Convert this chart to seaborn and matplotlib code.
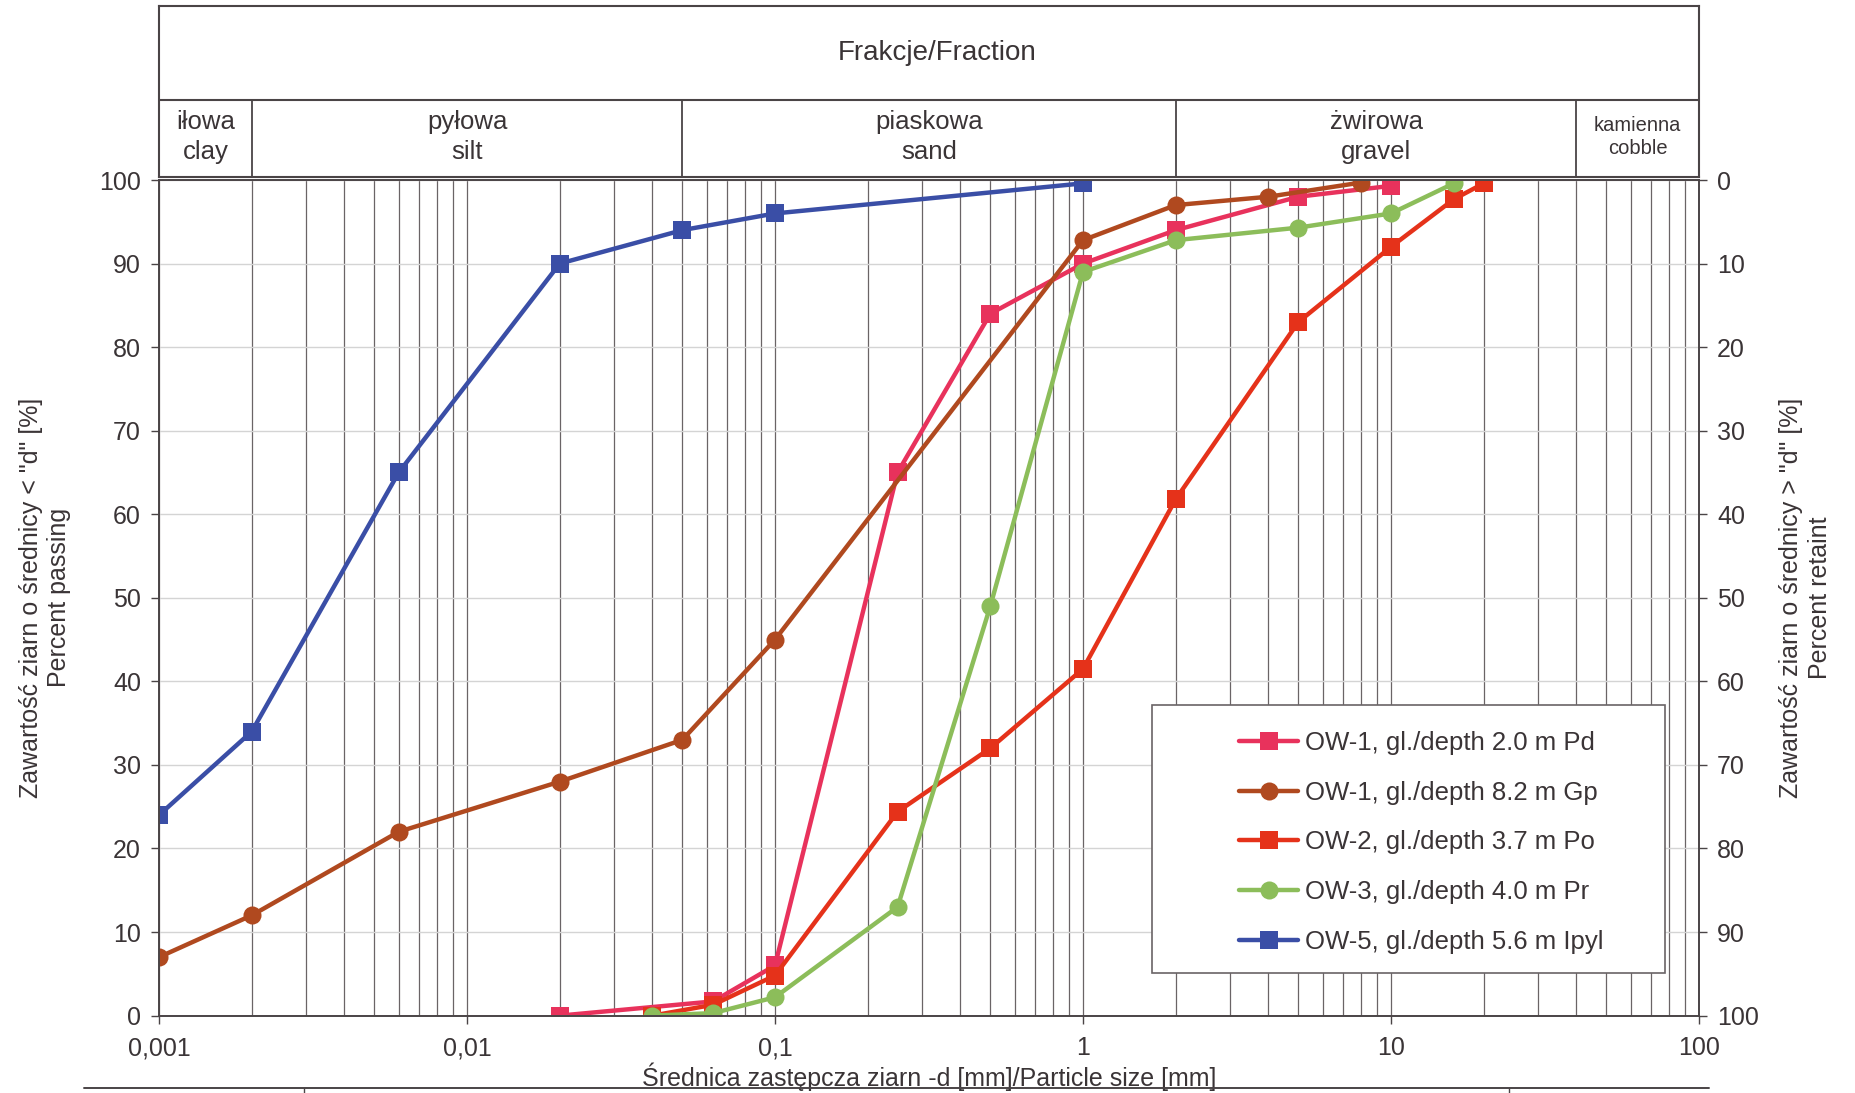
import matplotlib
matplotlib.use('Agg')
import matplotlib.pyplot as plt
import matplotlib.ticker as mticker
from matplotlib.patches import Rectangle
from matplotlib.lines import Line2D
import seaborn as sns

# Grain size data: particle size [mm] and percent passing [%]
ow1_pd_d = [0.02, 0.063, 0.1, 0.25, 0.5, 1, 2, 5, 10]
ow1_pd_p = [0, 1.7, 6, 65, 84, 90, 94, 98, 99.3]

ow1_gp_d = [0.001, 0.002, 0.006, 0.02, 0.05, 0.1, 1, 2, 4, 8]
ow1_gp_p = [7, 12, 22, 28, 33, 45, 92.8, 97, 98, 99.7]

ow2_po_d = [0.04, 0.063, 0.1, 0.25, 0.5, 1, 2, 5, 10, 16, 20]
ow2_po_p = [0, 1.3, 4.8, 24.4, 32, 41.5, 61.8, 83, 92, 97.7, 99.6]

ow3_pr_d = [0.04, 0.063, 0.1, 0.25, 0.5, 1, 2, 5, 10, 16]
ow3_pr_p = [0, 0.3, 2.2, 13, 49, 89, 92.8, 94.3, 96, 99.6]

ow5_ip_d = [0.001, 0.002, 0.006, 0.02, 0.05, 0.1, 1]
ow5_ip_p = [24, 34, 65, 90, 94, 96, 99.6]

series_labels = ['OW-1, gl./depth 2.0 m Pd', 'OW-1, gl./depth 8.2 m Gp',
                 'OW-2, gl./depth 3.7 m Po', 'OW-3, gl./depth 4.0 m Pr',
                 'OW-5, gl./depth 5.6 m Ipyl']

# Fraction boundaries (PN-B-02480) and header labels
fraction_bounds = [0.001, 0.002, 0.05, 2, 40, 100]
fraction_names = ['iłowa\nclay', 'pyłowa\nsilt', 'piaskowa\nsand',
                  'żwirowa\ngravel', 'kamienna\ncobble']

x_ticks = [0.001, 0.01, 0.1, 1, 10, 100]
x_tick_labels = ['0,001', '0,01', '0,1', '1', '10', '100']

sns.set_style('white')
plt.rcParams['font.family'] = ['Liberation Sans', 'DejaVu Sans']

colors = ['#e8325c', '#b0491f', '#e5321a', '#8cbd5a', '#3a4ea6']
markers = ['s', 'o', 's', 'o', 's']
data = [(ow1_pd_d, ow1_pd_p), (ow1_gp_d, ow1_gp_p), (ow2_po_d, ow2_po_p),
        (ow3_pr_d, ow3_pr_p), (ow5_ip_d, ow5_ip_p)]

text_c = '#3a3436'
line_c = '#4a4446'

fig = plt.figure(figsize=(18.56, 10.93), dpi=100)
ax = fig.add_axes([0.0857, 0.0708, 0.8297, 0.7645])

for (d, p), lab, c, m in zip(data, series_labels, colors, markers):
    sns.lineplot(x=d, y=p, ax=ax, color=c, marker=m, markersize=13,
                 markeredgewidth=0, linewidth=3.2, label=lab, legend=False)

ax.set_xscale('log')
ax.set_xlim(0.001, 100)
ax.set_ylim(0, 100)
ax.set_xticks(x_ticks)
ax.set_xticklabels(x_tick_labels)
ax.xaxis.set_minor_locator(mticker.LogLocator(base=10, subs=range(2, 10), numticks=20))
ax.xaxis.set_minor_formatter(mticker.NullFormatter())
ax.set_yticks(range(0, 101, 10))

ax.grid(which='both', axis='x', color='#6a6466', linewidth=0.9)
ax.grid(which='major', axis='y', color='#d4d4d4', linewidth=1.0)
ax.set_axisbelow(True)

ax.tick_params(axis='both', which='major', labelsize=18, colors=line_c,
               labelcolor=text_c, length=6, width=1, direction='out')
ax.tick_params(axis='x', which='major', pad=9)
ax.tick_params(axis='y', which='major', pad=7)
ax.tick_params(axis='x', which='minor', length=0)
ax.tick_params(left=True, bottom=True)

for s in ax.spines.values():
    s.set_color(line_c)
    s.set_linewidth(1.4)

ax.set_xlabel('Średnica zastępcza ziarn -d [mm]/Particle size [mm]',
              fontsize=18, color=text_c)
ax.xaxis.set_label_coords(0.5, -0.056)
ax.set_ylabel('Zawartość ziarn o średnicy < "d" [%]\nPercent passing',
              fontsize=18, color=text_c, linespacing=1.25)
ax.yaxis.set_label_coords(-0.057, 0.5)

# right axis: percent retained
ax2 = ax.twinx()
ax2.set_ylim(100, 0)
ax2.set_yticks(range(0, 101, 10))
ax2.tick_params(axis='y', labelsize=18, colors=line_c, labelcolor=text_c,
                length=6, width=1, pad=7, right=True)
for s in ax2.spines.values():
    s.set_visible(False)
ax2.set_ylabel('Zawartość ziarn o średnicy > "d" [%]\nPercent retaint',
               fontsize=18, color=text_c, linespacing=1.25, rotation=90)
ax2.yaxis.set_label_coords(1.052, 0.5)

# legend inside a plain frame
ax.add_patch(Rectangle((0.645, 0.051), 0.333, 0.321, transform=ax.transAxes,
                       facecolor='white', edgecolor='#6a6466', linewidth=1.2,
                       zorder=5))
handles = [Line2D([], [], color=c, marker=m, markersize=13, markeredgewidth=0,
                  linewidth=3.2) for c, m in zip(colors, markers)]
leg = ax.legend(handles, series_labels, loc='upper left',
                bbox_to_anchor=(0.693, 0.356), frameon=False, fontsize=18.5,
                borderpad=0, labelspacing=1.0, handlelength=2.3,
                handletextpad=0.25)
leg.set_zorder(6)
for t in leg.get_texts():
    t.set_color(text_c)

# header with soil fractions
axh = fig.add_axes([0.0857, 0.8380, 0.8297, 0.1565])
axh.set_xscale('log')
axh.set_xlim(0.001, 100)
axh.set_ylim(0, 1)
axh.set_xticks([])
axh.set_yticks([])
axh.xaxis.set_minor_locator(mticker.NullLocator())
for s in axh.spines.values():
    s.set_color(line_c)
    s.set_linewidth(1.5)
split = 0.45
axh.axhline(split, color=line_c, linewidth=1.5)
for b in fraction_bounds[1:-1]:
    axh.plot([b, b], [0, split], color=line_c, linewidth=1.3)
axh.text(0.505, (1 + split) / 2, 'Frakcje/Fraction', ha='center',
         va='center', fontsize=20, color=text_c, transform=axh.transAxes)
for lo, hi, name in zip(fraction_bounds[:-1], fraction_bounds[1:], fraction_names):
    fs = 14.5 if name.startswith('kamienna') else 18.5
    axh.text((lo * hi) ** 0.5, split / 2 + 0.01, name, ha='center', va='center',
             fontsize=fs, color=text_c, linespacing=1.3)

# cut-off table edge at the bottom of the scan
fig.add_artist(Line2D([0.045, 0.921], [0.0046, 0.0046], color=line_c, linewidth=1.4))
fig.add_artist(Line2D([0.164, 0.164], [0.0, 0.0046], color=line_c, linewidth=1.0))
fig.add_artist(Line2D([0.813, 0.813], [0.0, 0.0046], color=line_c, linewidth=1.0))

fig.savefig('out.png', dpi=100)
plt.close(fig)
